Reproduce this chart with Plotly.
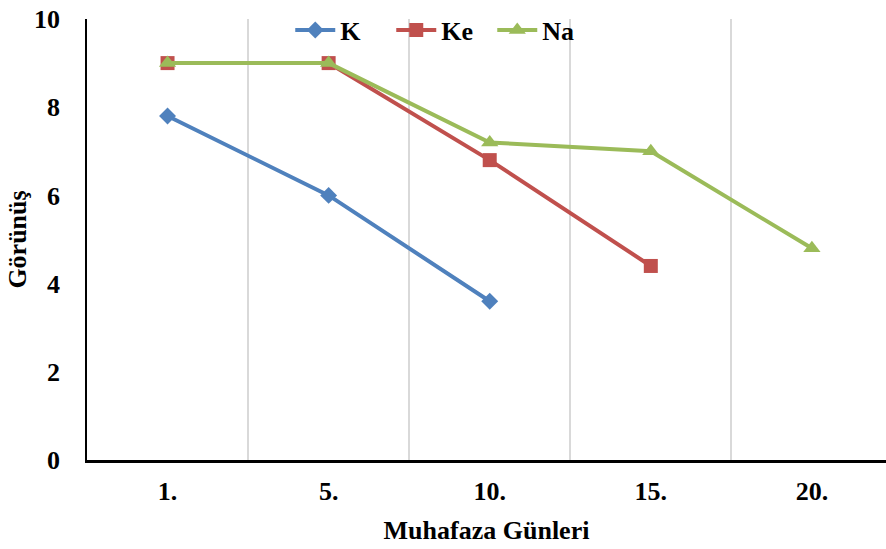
import plotly.graph_objects as go

categories = ["1.", "5.", "10.", "15.", "20."]
k_values = [7.8, 6.0, 3.6]
ke_values = [9.0, 9.0, 6.8, 4.4]
na_values = [9.0, 9.0, 7.2, 7.0, 4.8]
y_ticks = [0, 2, 4, 6, 8, 10]

FONT = "'Liberation Serif', 'Times New Roman', serif"
FS = 26

fig = go.Figure()
series = [
    ("K", k_values, "#4F81BD", "diamond", 13),
    ("Ke", ke_values, "#C0504D", "square", 14),
    ("Na", na_values, "#9BBB59", "triangle-up", 15),
]
for name, vals, color, sym, size in series:
    fig.add_trace(go.Scatter(
        x=categories[:len(vals)], y=vals, name=name, mode="lines+markers",
        line=dict(color=color, width=4),
        marker=dict(symbol=sym, size=size, color=color),
    ))

fig.update_layout(
    width=886, height=549,
    margin=dict(l=87, r=0, t=19, b=89, autoexpand=False),
    plot_bgcolor="white", paper_bgcolor="white",
    font=dict(family=FONT, size=FS, color="black"),
    showlegend=True,
    legend=dict(orientation="h", x=0.444, xanchor="center", y=0.975, yanchor="middle",
                font=dict(family=FONT, size=FS, color="black", weight="bold"),
                bgcolor="rgba(0,0,0,0)", itemwidth=40, tracegroupgap=0,
                entrywidth=46, entrywidthmode="pixels"),
    xaxis=dict(
        type="category", categoryorder="array", categoryarray=categories,
        range=[-0.5, 4.46], tickson="boundaries", showgrid=True,
        gridcolor="#D9D9D9", gridwidth=1.5,
        showline=True, linecolor="black", linewidth=2.5,
        ticks="", ticklabelstandoff=6, automargin=False,
        tickfont=dict(family=FONT, size=FS, color="black", weight="bold"),
        title=dict(text="Muhafaza Günleri", standoff=16,
                   font=dict(family=FONT, size=FS, color="black", weight="bold")),
        zeroline=False,
    ),
    yaxis=dict(
        range=[0, 10], tickvals=y_ticks, showgrid=False,
        showline=True, linecolor="black", linewidth=1.5,
        ticks="", ticklabelstandoff=20, automargin=False,
        tickfont=dict(family=FONT, size=FS, color="black", weight="bold"),
        title=dict(text="Görünüş", standoff=0,
                   font=dict(family=FONT, size=FS, color="black", weight="bold")),
        zeroline=False,
    ),
)

fig.write_html("out.html", config={"displayModeBar": False},
               post_script="document.body.style.margin='0';document.body.style.padding='0';")
